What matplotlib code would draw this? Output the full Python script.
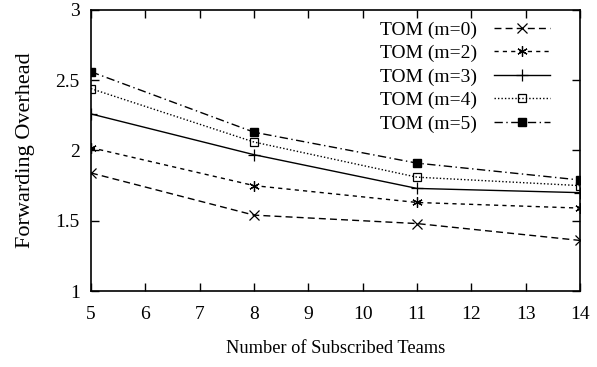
import matplotlib
matplotlib.use("Agg")
import matplotlib.pyplot as plt

plt.rcParams['font.family'] = ['Liberation Serif', 'DejaVu Serif']
plt.rcParams['mathtext.fontset'] = 'stix'

teams = [5, 8, 11, 14]
m0 = [1.84, 1.54, 1.48, 1.36]
m2 = [2.02, 1.75, 1.63, 1.59]
m3 = [2.26, 1.97, 1.73, 1.70]
m4 = [2.44, 2.06, 1.81, 1.75]
m5 = [2.56, 2.13, 1.91, 1.79]
labels = ['TOM (m=0)', 'TOM (m=2)', 'TOM (m=3)', 'TOM (m=4)', 'TOM (m=5)']

fig = plt.figure(figsize=(5.97, 3.67), dpi=100)
ax = fig.add_axes([0.1524, 0.207, 0.8191, 0.766])

lw = 1.0
ax.plot(teams, m0, color='black', lw=lw, linestyle=(0, (5, 3)), marker='x', ms=6.5, mew=0.9, label=labels[0])
ax.plot(teams, m2, color='black', lw=lw, linestyle=(0, (3, 3)), marker=(6, 2, 0), ms=7.5, mew=0.9, label=labels[1])
ax.plot(teams, m3, color='black', lw=lw, linestyle='-', marker='+', ms=8, mew=0.9, label=labels[2])
ax.plot(teams, m4, color='black', lw=lw, linestyle=(0, (1, 1.5)), marker='s', ms=6, mfc='none', mew=0.9, label=labels[3])
ax.plot(teams, m5, color='black', lw=lw, linestyle=(0, (6, 2.5, 1, 2.5)), marker='s', ms=6, mfc='black', label=labels[4])

ax.set_xlim(5, 14)
ax.set_ylim(1, 3)
ax.set_xticks(range(5, 15))
ax.set_yticks([1, 1.5, 2, 2.5, 3])
ax.set_yticklabels(['1', '1.5', '2', '2.5', '3'])
ax.tick_params(direction='in', top=True, right=True, length=6, width=1, labelsize=14)
ax.tick_params(axis='x', pad=11)
ax.tick_params(axis='y', pad=8)
for s in ax.spines.values():
    s.set_linewidth(1.2)

ax.set_xlabel('Number of Subscribed Teams', fontsize=13.2, labelpad=12)
ax.set_ylabel('Forwarding Overhead', fontsize=16, labelpad=15)

leg = ax.legend(loc='upper right', frameon=False, markerfirst=False, fontsize=14,
                handlelength=2.9, handletextpad=0.87, labelspacing=0.3,
                borderpad=0, borderaxespad=0, bbox_to_anchor=(0.9387, 0.96))

fig.savefig('out.png', dpi=100)
